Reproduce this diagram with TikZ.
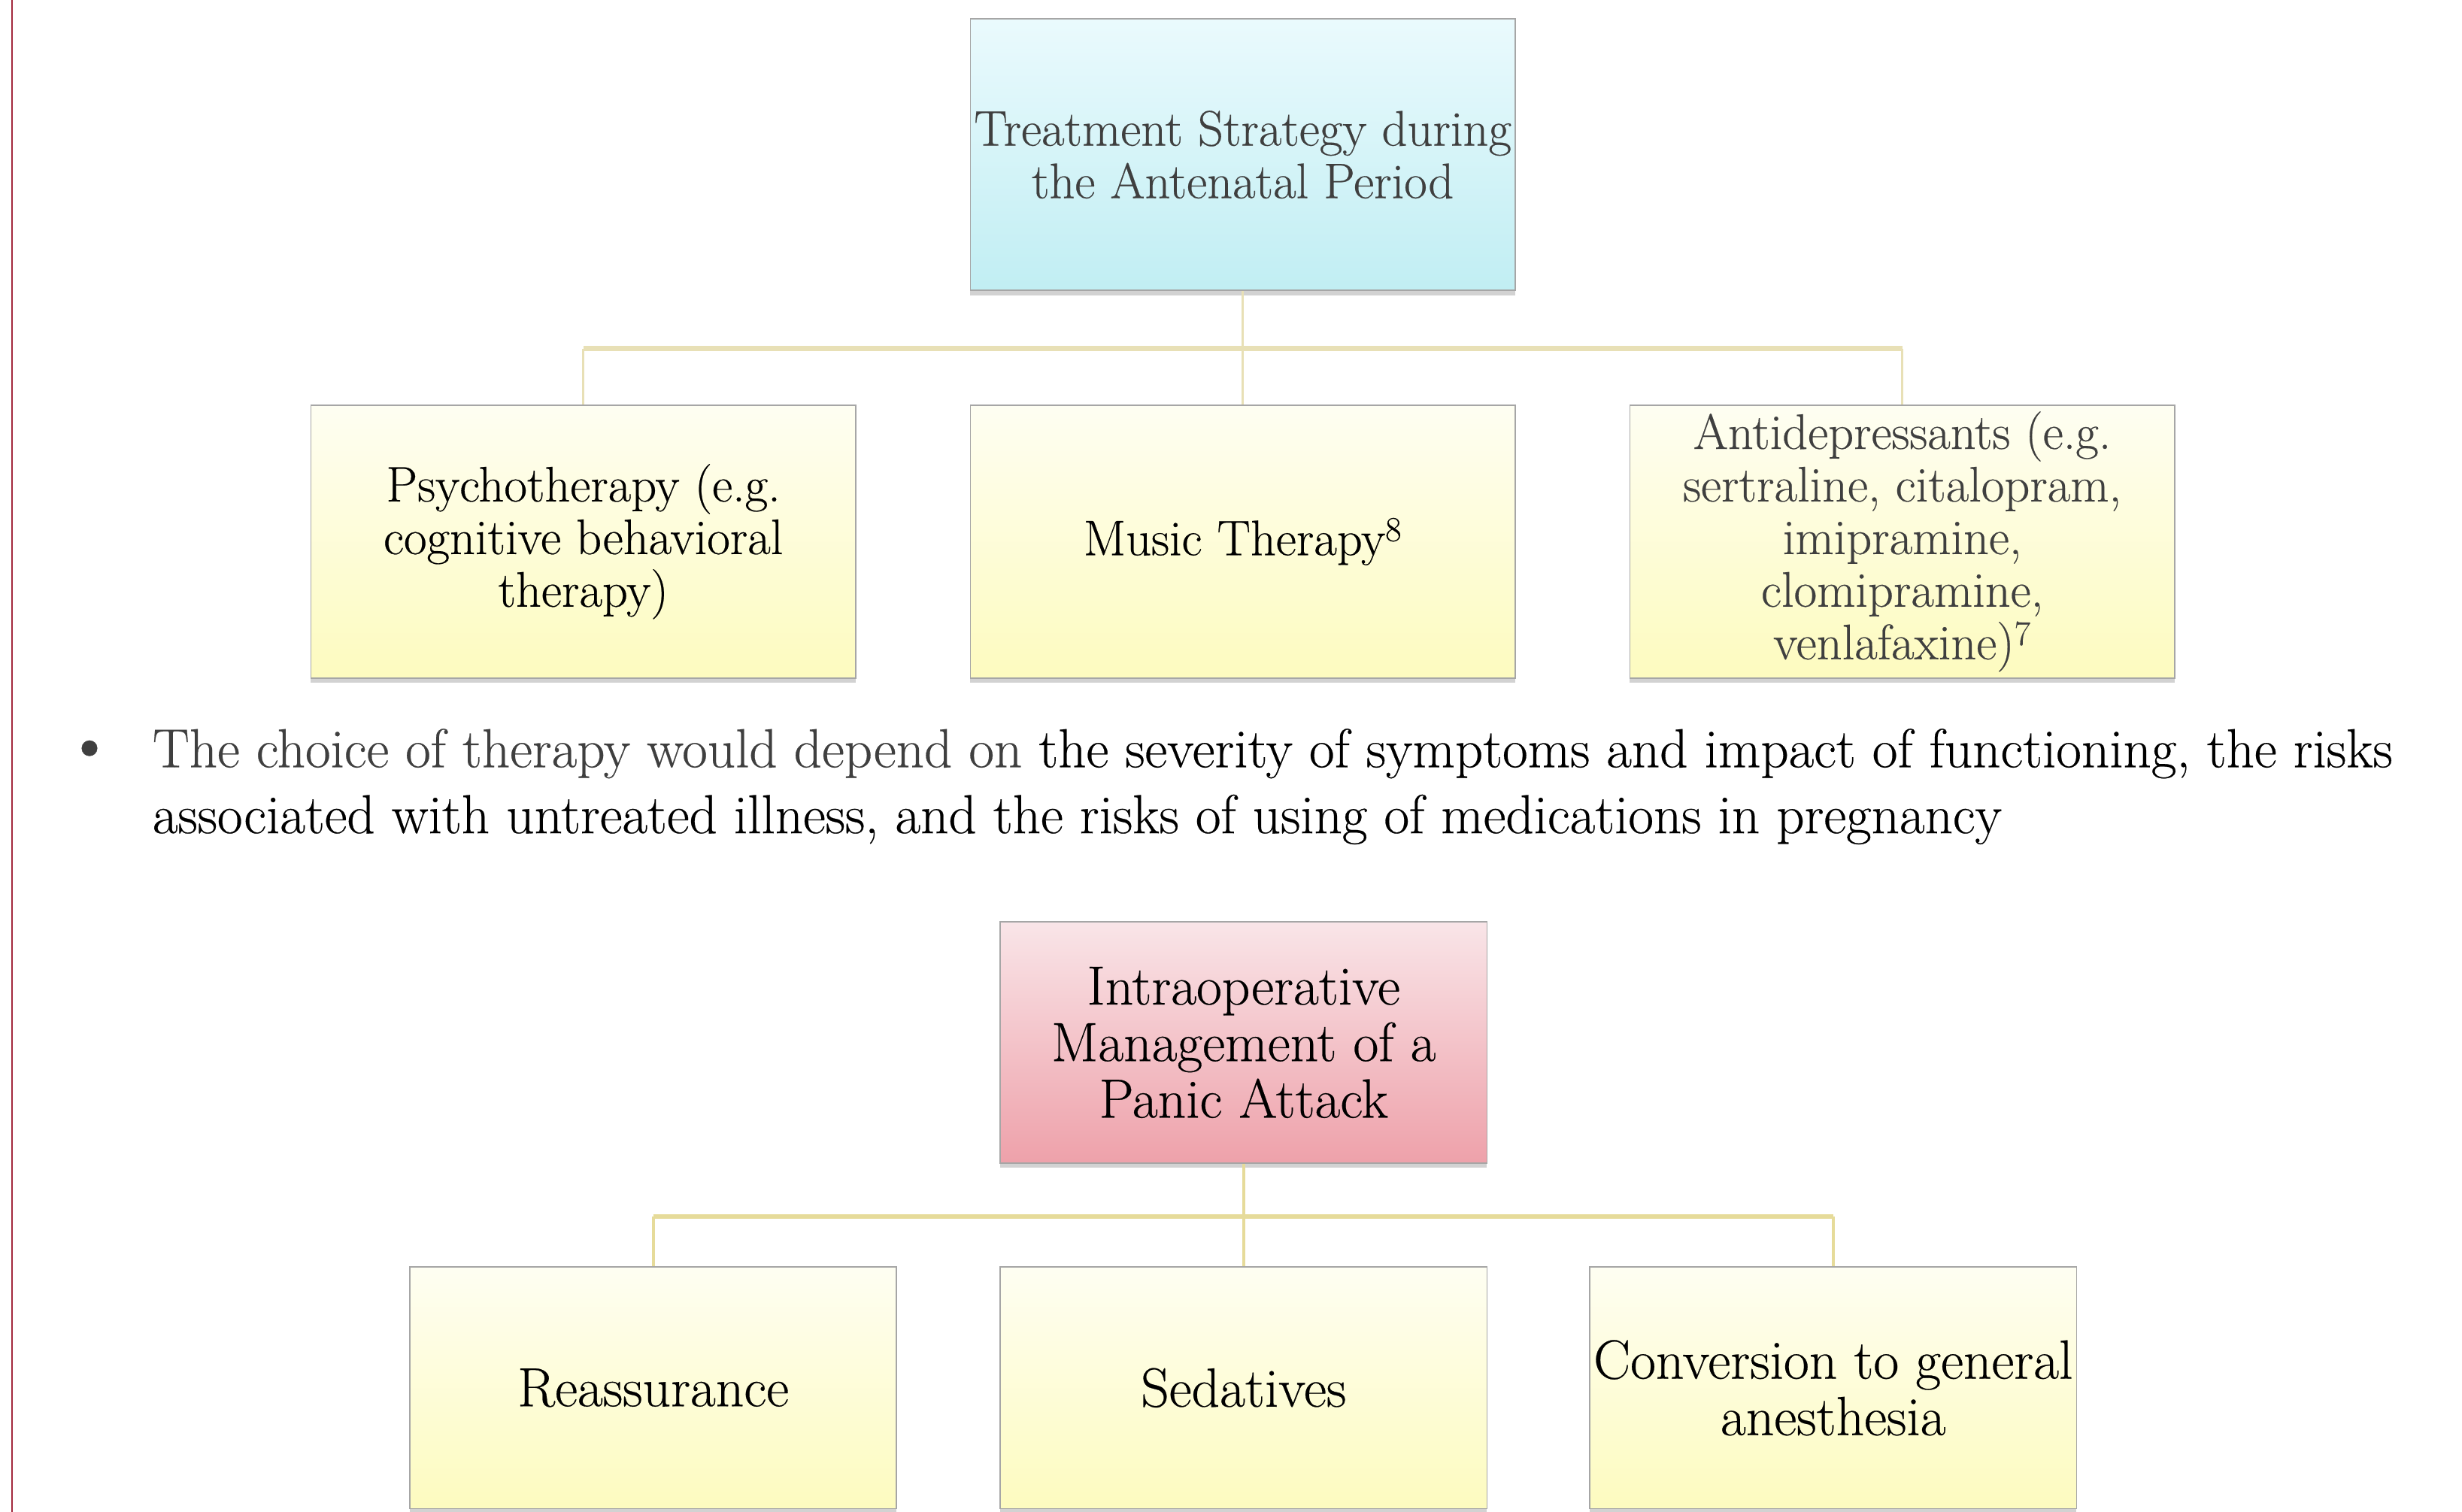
\documentclass[tikz,border=0pt]{standalone}
\usepackage{fontspec}
\setmainfont{Latin Modern Roman}[FakeBold=0.35]
\usetikzlibrary{shadows}
\definecolor{txtgrey}{HTML}{3F3F3F}
\definecolor{connA}{HTML}{E8E0B6}
\definecolor{connB}{HTML}{E6DB9A}
\definecolor{edgegrey}{HTML}{A6A6A6}
\definecolor{blueT}{HTML}{EAFAFD}
\definecolor{blueB}{HTML}{C1EEF3}
\definecolor{yelT}{HTML}{FEFEF2}
\definecolor{yelB}{HTML}{FDFBBF}
\definecolor{pinkT}{HTML}{F9E5E8}
\definecolor{pinkB}{HTML}{EEA1AA}
\definecolor{redline}{HTML}{A3293D}
\tikzset{
  boxbase/.style={rectangle, draw=edgegrey, line width=0.8pt, inner sep=1pt, align=center,
    drop shadow={shadow xshift=0pt, shadow yshift=-3pt, opacity=0.35}},
  topfont/.style={font=\fontsize{31.8}{33.5}\selectfont},
  botfont/.style={font=\fontsize{35.2}{36}\selectfont},
  bluebox/.style={boxbase, top color=blueT, bottom color=blueB, minimum width=347pt, minimum height=173pt},
  yelbox/.style={boxbase, top color=yelT, bottom color=yelB, minimum width=347pt, minimum height=174pt},
  pinkbox/.style={boxbase, top color=pinkT, bottom color=pinkB, minimum width=310pt, minimum height=154pt},
  ybot/.style={boxbase, top color=yelT, bottom color=yelB, minimum width=310pt, minimum height=154pt},
  connv/.style={draw=connA, line width=1.6pt},
  connh/.style={draw=connA, line width=3pt},
  connvb/.style={draw=connB, line width=1.8pt},
  connhb/.style={draw=connB, line width=3pt},
}
\begin{document}
\begin{tikzpicture}[x=1pt,y=-1pt]
\useasboundingbox[fill=white] (0,0) rectangle (1568,963);
\draw[redline, line width=1.1pt] (7.5,0) -- (7.5,963);

% top diagram
\node[bluebox, topfont, text=txtgrey] (top) at (791.5,98.5) {Treatment Strategy during\\the Antenatal Period};
\node[yelbox, topfont] (psy) at (371.5,345) {Psychotherapy (e.g.\\cognitive behavioral\\therapy)};
\node[yelbox, topfont] (mus) at (791.5,345) {Music Therapy\textsuperscript{8}};
\node[yelbox, topfont, text=txtgrey] (anti) at (1211.5,345) {Antidepressants (e.g.\\sertraline, citalopram,\\imipramine,\\clomipramine,\\venlafaxine)\textsuperscript{7}};
\coordinate (j1) at (791.5,222);
\draw[connv] (top.south) -- (j1);
\draw[connh] (psy.north |- j1) -- (anti.north |- j1);
\draw[connv] (psy.north |- j1) -- (psy.north);
\draw[connv] (j1) -- (mus.north);
\draw[connv] (anti.north |- j1) -- (anti.north);

% bullet text
\node[text=txtgrey, font=\fontsize{44}{42}\selectfont, inner sep=0pt] (bul) at (57,480) {\textbullet};
\node[anchor=west, align=left, inner sep=0pt, font=\fontsize{35}{42}\selectfont] (para) at (97,501)
  {\textcolor{txtgrey}{The choice of therapy would depend on} the severity of symptoms and impact of functioning, the risks\\
   associated with untreated illness, and the risks of using of medications in pregnancy};

% bottom diagram
\node[pinkbox, botfont] (intra) at (792,664) {Intraoperative\\Management of a\\Panic Attack};
\node[ybot, botfont] (reas) at (416,884) {Reassurance};
\node[ybot, botfont] (sed) at (792,884) {Sedatives};
\node[ybot, botfont] (conv) at (1167.5,884) {Conversion to general\\anesthesia};
\coordinate (j2) at (792,775);
\draw[connvb] (intra.south) -- (j2);
\draw[connhb] (reas.north |- j2) -- (conv.north |- j2);
\draw[connvb] (reas.north |- j2) -- (reas.north);
\draw[connvb] (j2) -- (sed.north);
\draw[connvb] (conv.north |- j2) -- (conv.north);
\end{tikzpicture}
\end{document}
